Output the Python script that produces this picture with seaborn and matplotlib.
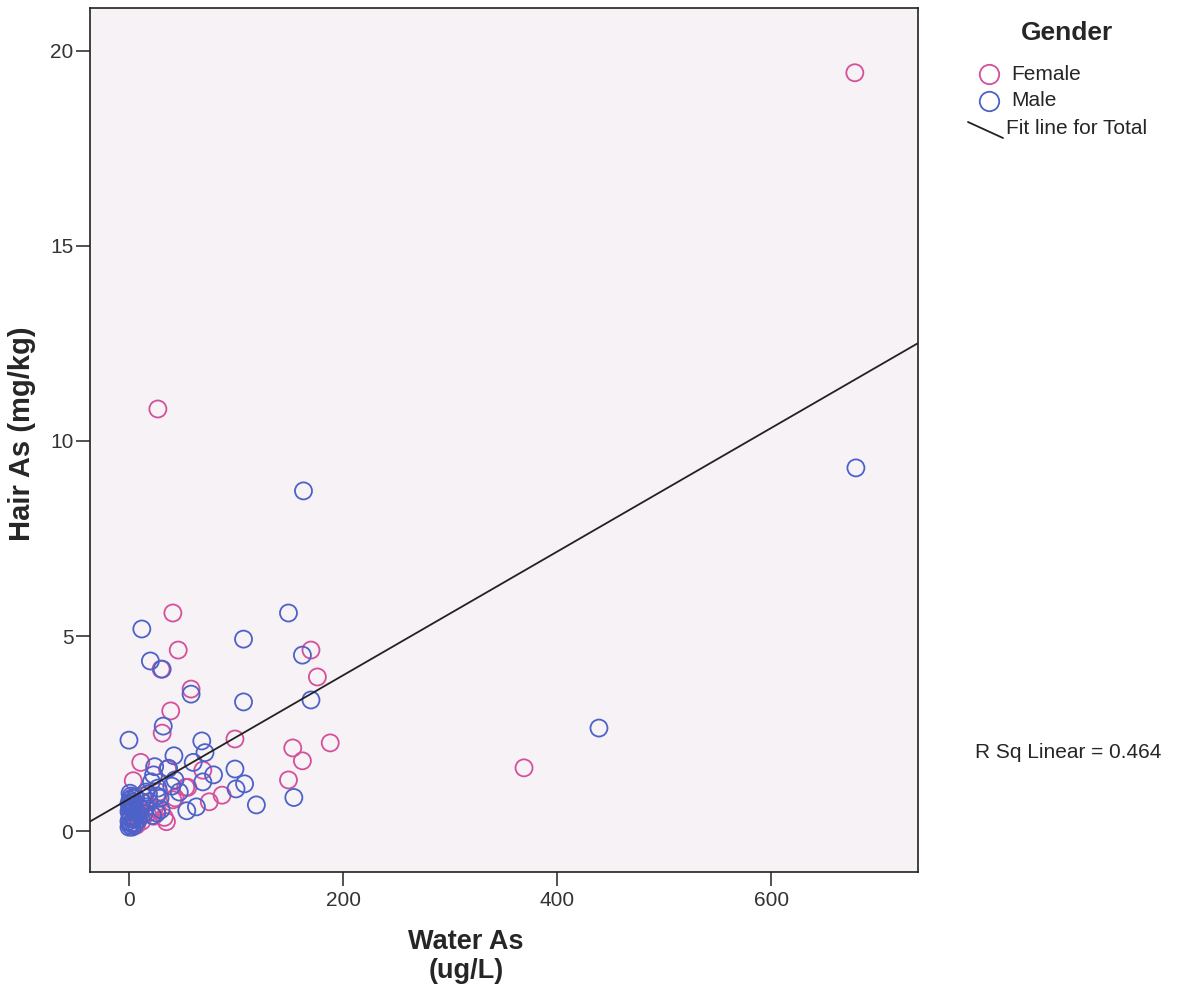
import numpy as np
import pandas as pd
import matplotlib
matplotlib.use("Agg")
import matplotlib.pyplot as plt
import seaborn as sns
from matplotlib.lines import Line2D

female_x = [678, 27, 41, 46, 170, 176, 58, 39, 31, 99, 188, 153, 162, 369, 149, 11, 4, 35, 75, 53,
            43, 87, 30, 36, 69, 55, 41, 23, 17, 24, 13, 8, 5, 3, 2, 6, 10, 15, 20, 28,
            33, 7, 1, 4, 12, 18, 26]
female_y = [19.44, 10.82, 5.59, 4.64, 4.64, 3.95, 3.64, 3.08, 2.51, 2.36, 2.26, 2.13, 1.80, 1.62, 1.31, 1.76, 1.29, 0.24, 0.75, 1.12,
            0.85, 0.92, 4.15, 1.59, 1.56, 1.12, 0.80, 0.38, 0.45, 0.60, 0.90, 0.55, 0.30, 0.65, 0.20, 0.85, 0.40, 0.70, 0.50, 1.00,
            0.35, 0.15, 0.45, 0.75, 0.25, 0.95, 0.55]
male_x = [679, 163, 12, 149, 107, 20, 31, 162, 58, 107, 170, 439, 32, 0, 68, 42, 71, 60, 99, 108,
          100, 119, 154, 54, 63, 24, 23, 79, 69, 37, 21, 43, 1, 29, 16, 26, 2, 1, 3, 5,
          0, 2, 4, 6, 8, 1, 3, 0, 2, 5, 7, 10, 14, 19, 26, 30, 1, 3, 0, 2,
          4, 6, 9, 12, 16, 22, 1, 0, 3, 5, 2, 47, 40, 27, 18]
male_y = [9.31, 8.72, 5.18, 5.59, 4.92, 4.36, 4.15, 4.51, 3.51, 3.31, 3.36, 2.64, 2.69, 2.33, 2.31, 1.93, 2.01, 1.76, 1.59, 1.21,
          1.08, 0.67, 0.86, 0.52, 0.62, 1.65, 1.44, 1.44, 1.26, 1.61, 1.26, 1.31, 0.97, 0.84, 0.62, 0.46, 0.90, 0.80, 0.70, 0.60,
          0.50, 0.40, 0.30, 0.20, 0.45, 0.15, 0.55, 0.25, 0.65, 0.35, 0.50, 0.60, 0.45, 0.75, 0.90, 0.55, 0.35, 0.10, 0.70, 0.20,
          0.50, 0.85, 0.30, 0.75, 1.00, 0.40, 0.60, 0.10, 0.85, 0.15, 0.75, 1.00, 1.15, 1.10, 0.95]

genders = ["Female", "Male"]
x_ticks = [0, 200, 400, 600]
y_ticks = [0, 5, 10, 15, 20]
r2_text = "R Sq Linear = 0.464"

df = pd.DataFrame({
    "Water": female_x + male_x,
    "Hair": female_y + male_y,
    "Gender": ["Female"] * len(female_x) + ["Male"] * len(male_x),
})

pink = "#D4509A"
blue = "#4C62C8"
palette = {"Female": pink, "Male": blue}

sns.set_style("ticks")
plt.rcParams["font.family"] = ["Liberation Sans", "DejaVu Sans"]

W, H = 1185, 993
fig = plt.figure(figsize=(W / 100, H / 100), dpi=100)
ax = fig.add_axes([90 / W, 1 - 872 / H, (918 - 90) / W, (872 - 8) / H])
ax.set_facecolor("#F6F2F6")
ax.set_xlim(-36.4, 737)
ax.set_ylim(-1.05, 21.1)

for g in genders:
    sub = df[df.Gender == g]
    ax.scatter(sub.Water, sub.Hair, s=150, facecolors="none",
               edgecolors=palette[g], linewidths=1.3, zorder=3)

sns.regplot(data=df, x="Water", y="Hair", ax=ax, scatter=False, ci=None,
            truncate=False, line_kws=dict(color="#222222", lw=1.3, zorder=4))

ax.set_xlim(-36.4, 737)
ax.set_ylim(-1.05, 21.1)
ax.set_xticks(x_ticks)
ax.set_yticks(y_ticks)
ax.tick_params(axis="both", direction="out", length=10, width=1.2, labelsize=15,
               labelcolor="#333333", color="#333333")
ax.tick_params(axis="x", pad=4)
ax.tick_params(axis="y", pad=2)
for s in ax.spines.values():
    s.set_visible(True)
    s.set_color("#222222")
    s.set_linewidth(1.2)

ax.set_xlabel("Water As\n(ug/L)", fontsize=19.5, fontweight="bold", linespacing=1.15)
ax.set_ylabel("Hair As (mg/kg)", fontsize=21, fontweight="bold")
ax.xaxis.set_label_coords((466 - 90) / (918 - 90), -(929 - 872) / (872 - 8))
ax.yaxis.set_label_coords(-(90 - 36) / (918 - 90), (872 - 434) / (872 - 8))

# legend (manual, figure coords)
def fx(px):
    return px / W

def fy(py):
    return 1 - py / H

fig.text(fx(1067), fy(33), "Gender", fontsize=19, fontweight="bold", ha="center", va="center")
for i, g in enumerate(genders):
    yy = 74 + i * 27
    fig.add_artist(Line2D([fx(989)], [fy(yy)], marker="o", markersize=14, markerfacecolor="none",
                          markeredgecolor=palette[g], markeredgewidth=1.3, linestyle="none"))
    fig.text(fx(1011), fy(yy), g, fontsize=15, ha="left", va="center")
fig.add_artist(Line2D([fx(968), fx(1003)], [fy(122), fy(138)], color="#222222", lw=1.3))
fig.text(fx(1006), fy(129), "Fit line for Total", fontsize=15, ha="left", va="center")

fig.text(fx(975), fy(752), r2_text, fontsize=15, ha="left", va="center")

fig.savefig("out.png", dpi=100)
